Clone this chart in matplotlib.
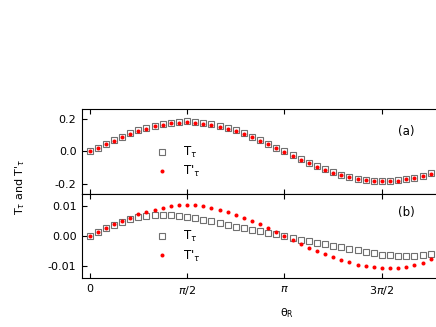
import numpy as np
import matplotlib
matplotlib.use("Agg")
import matplotlib.pyplot as plt

plt.rcParams['font.family'] = ['DejaVu Sans']
plt.rcParams['mathtext.fontset'] = 'dejavusans'
plt.rcParams['axes.unicode_minus'] = False

# angle grid in degrees (step 7.5 deg)
theta_deg = np.arange(0, 315.1, 7.5)

T_a = [0.000, 0.023, 0.047, 0.069, 0.091, 0.111, 0.130, 0.146, 0.159, 0.170, 0.178, 0.183, 0.185,
       0.183, 0.178, 0.170, 0.159, 0.145, 0.129, 0.111, 0.091, 0.069, 0.046, 0.022, -0.001,
       -0.025, -0.048, -0.071, -0.092, -0.112, -0.130, -0.146, -0.159, -0.170, -0.178, -0.183,
       -0.185, -0.184, -0.179, -0.172, -0.162, -0.150, -0.136]
Tp_a = [0.000, 0.021, 0.044, 0.065, 0.086, 0.106, 0.125, 0.141, 0.154, 0.165, 0.173, 0.178, 0.180,
        0.177, 0.172, 0.164, 0.153, 0.139, 0.124, 0.106, 0.087, 0.066, 0.043, 0.020, -0.003,
        -0.027, -0.051, -0.074, -0.095, -0.114, -0.132, -0.148, -0.161, -0.171, -0.179, -0.184,
        -0.186, -0.185, -0.181, -0.174, -0.165, -0.152, -0.138]
T_b = [0.0000, 0.0012, 0.0025, 0.0036, 0.0047, 0.0055, 0.0062, 0.0066, 0.0069, 0.0070, 0.0069,
       0.0066, 0.0063, 0.0058, 0.0053, 0.0048, 0.0042, 0.0036, 0.0031, 0.0026, 0.0021, 0.0016,
       0.0011, 0.0005, 0.0000, -0.0006, -0.0012, -0.0018, -0.0023, -0.0027, -0.0032, -0.0037,
       -0.0043, -0.0048, -0.0053, -0.0058, -0.0062, -0.0065, -0.0067, -0.0068, -0.0068,
       -0.0065, -0.0060]
Tp_b = [0.0000, 0.0013, 0.0026, 0.0038, 0.0049, 0.0061, 0.0071, 0.0080, 0.0087, 0.0093, 0.0098,
        0.0101, 0.0102, 0.0101, 0.0098, 0.0093, 0.0087, 0.0079, 0.0070, 0.0060, 0.0049, 0.0038,
        0.0026, 0.0012, 0.0000, -0.0013, -0.0026, -0.0039, -0.0050, -0.0061, -0.0071, -0.0080,
        -0.0088, -0.0095, -0.0100, -0.0104, -0.0106, -0.0107, -0.0106, -0.0103, -0.0097,
        -0.0089, -0.0078]

xtick_vals = [0, np.pi / 2, np.pi, 3 * np.pi / 2]
xtick_labels = ['0', r'$\pi$/2', r'$\pi$', r'3$\pi$/2']
yticks_a = [-0.2, 0.0, 0.2]
ylabels_a = ['-0.2', '0.0', '0.2']
yticks_b = [-0.01, 0.0, 0.01]
ylabels_b = ['-0.01', '0.00', '0.01']

theta = np.deg2rad(theta_deg)

W, H = 436, 327
fig = plt.figure(figsize=(W / 100, H / 100), dpi=100)

def fx(px):
    return px / W

def fy(py):
    return 1 - py / H

left_px, right_px = 82, 440
ax_a = fig.add_axes([fx(left_px), fy(194), fx(right_px - left_px), (194 - 109) / H])
ax_b = fig.add_axes([fx(left_px), fy(278), fx(right_px - left_px), (278 - 194) / H])

xmin, xmax = -0.121, 5.647
sq_kw = dict(ls='none', marker='s', ms=4.0, mfc='none', mec='#707070', mew=0.8)
dot_kw = dict(ls='none', marker='o', ms=2.9, mfc='#ff0000', mec='#ff0000', mew=0)

for ax, T, Tp, yt, yl, ylim, tag in [
        (ax_a, T_a, Tp_a, yticks_a, ylabels_a, (-0.264, 0.262), '(a)'),
        (ax_b, T_b, Tp_b, yticks_b, ylabels_b, (-0.01397, 0.0139), '(b)')]:
    ax.plot(theta, T, label=r'T$_{\tau}$', **sq_kw)
    ax.plot(theta, Tp, label=r"T'$_{\tau}$", **dot_kw)
    ax.set_xlim(xmin, xmax)
    ax.set_ylim(*ylim)
    ax.set_xticks(xtick_vals)
    ax.set_yticks(yt)
    ax.set_yticklabels(yl)
    ax.tick_params(direction='in', top=True, right=False, length=3.5, width=0.8,
                   labelsize=8, pad=4)
    for s in ax.spines.values():
        s.set_linewidth(0.8)
    ax.spines['right'].set_visible(False)
    ax.text(0.905, 0.74 if tag == '(a)' else 0.78, tag, transform=ax.transAxes,
            fontsize=8.5, ha='center', va='center')
    leg = ax.legend(loc='upper left', bbox_to_anchor=(0.19, 0.65), frameon=False,
                    fontsize=8.5, handlelength=1.0, handletextpad=1.3,
                    labelspacing=0.35, borderpad=0, numpoints=1)

ax_a.set_xticklabels([])
ax_b.set_xticklabels(xtick_labels)
ax_b.set_xlabel('\u03b8$_{\\rm R}$', fontsize=8, labelpad=-1)
ax_b.xaxis.set_label_coords((287 - left_px) / (right_px - left_px), -0.33)

fig.text(fx(20), fy(187), r"T$_{\tau}$ and T'$_{\tau}$", rotation=90,
         ha='center', va='center', fontsize=8)

fig.savefig('out.png', dpi=100)
